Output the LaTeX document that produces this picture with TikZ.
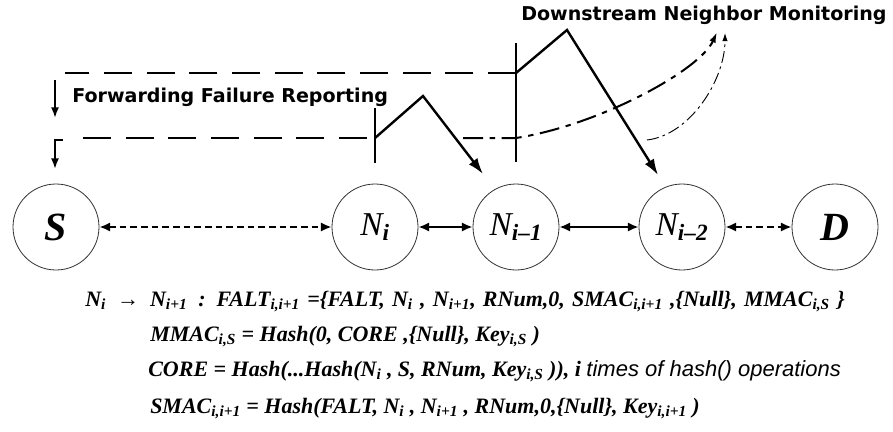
\documentclass[tikz,border=0pt]{standalone}
\usepackage{fontspec}
\setmainfont{Liberation Serif}
\newfontfamily\bannerfont{DejaVu Sans}
\newfontfamily\notefont{Liberation Sans}
\usepackage{tikz}
\usetikzlibrary{arrows.meta}

\newcommand{\low}[1]{\textsubscript{#1}}

\tikzset{
  peer/.style={circle, draw=black!80, line width=0.6pt, minimum size=64.5pt, inner sep=0pt},
  link/.style={{Latex[length=8pt,width=7pt]}-{Latex[length=8pt,width=7pt]}, line width=1.8pt},
  weaklink/.style={link, dash pattern=on 5pt off 3pt},
  report/.style={line width=1.8pt, dash pattern=on 21pt off 11pt},
  probe/.style={-{Latex[length=12pt,width=8pt]}, line width=1.8pt},
  banner/.style={anchor=west, inner sep=0pt, font=\bannerfont\bfseries\fontsize{14.3}{16}\selectfont},
  formula/.style={anchor=base west, inner sep=0pt, font=\bfseries\itshape\fontsize{16.5}{19}\selectfont}
}

\begin{document}
\begin{tikzpicture}[x=0.75pt,y=0.75pt,yscale=-1,xscale=1]
\path[use as bounding box] (0,0) rectangle (893,432);

%Shape: Circle
\node[peer] (S) at (56,227) {\fontsize{30}{30}\selectfont\bfseries\itshape S};
\node[peer] (Ni) at (375,227) {\fontsize{25}{25}\selectfont\itshape N\low{\bfseries i}};
\node[peer] (Nim1) at (516,227) {\fontsize{25}{25}\selectfont\itshape N\low{\bfseries i–1}};
\node[peer] (Nim2) at (682,227) {\fontsize{25}{25}\selectfont\itshape N\low{\bfseries i–2}};
\node[peer] (D) at (835,227) {\fontsize{30}{30}\selectfont\bfseries\itshape D};

%Straight Lines
\draw[weaklink] (S) -- (Ni);
\draw[link] (Ni) -- (Nim1);
\draw[link] (Nim1) -- (Nim2);
\draw[weaklink] (Nim2) -- (D);

%Points on the bars
\coordinate (hop1) at (375,138);
\coordinate (hop2) at (516,73);
\coordinate (tip1) at (483,174);
\coordinate (tip2) at (658,175);
\coordinate (mon1) at (717,32);
\coordinate (mon2) at (725,33);

%Bars
\draw[line width=1.8pt] (375,108) -- (375,163);
\draw[line width=1.8pt] (516,43) -- (516,162);

%Zigzag probes
\draw[probe] (hop1) -- (423,96) -- (tip1);
\draw[probe] (hop2) -- (567,30) -- (tip2);

%Failure report lines
\draw[report] (hop2) -- (65,73);
\draw[report] (367,138) -- (78,138);
\draw[-{Latex[length=8pt,width=6pt]}, line width=1.3pt] (55,80) -- (55,118);
\draw[-{Latex[length=8pt,width=6pt]}, line width=1.3pt] (63,140) -- (55,140) -- (55,169);

%Curved monitoring arrows
\draw[-{Latex[length=8pt,width=5pt]}, line width=1.5pt, dash pattern=on 15pt off 5pt on 4pt off 5pt]
  (463,138) -- (hop1 -| hop2) .. controls (600,125) and (700,70) .. (mon1);
\draw[-{Latex[length=6pt,width=4pt]}, line width=0.7pt, dash pattern=on 9pt off 3pt on 2pt off 3pt]
  (647,140) .. controls (690,135) and (725,80) .. (mon2);

% Text Node
\node[banner] (fwd) at (72,97) {Forwarding Failure Reporting};
\node[banner] (dnm) at (521,15) {Downstream Neighbor Monitoring};

% Text Node
\node[formula] (f1) at (85,306) {\spaceskip=0.33em N\low{i}\enspace→\enspace N\low{i+1}\enspace:\enspace FALT\low{i,i+1} =\{FALT, N\low{i} , N\low{i+1}, RNum,0, SMAC\low{i,i+1} ,\{Null\}, MMAC\low{i,S} \}};
\node[formula] (f2) at (150,341) {MMAC\low{i,S} = Hash(0, CORE ,\{Null\}, Key\low{i,S} )};
\node[formula] (f3) at (148,376) {CORE = Hash(...Hash(N\low{i} , S, RNum, Key\low{i,S} )), i {\notefont\mdseries times of hash() operations}};
\node[formula] (f4) at (150,413) {SMAC\low{i,i+1} = Hash(FALT, N\low{i} , N\low{i+1} , RNum,0,\{Null\}, Key\low{i,i+1} )};

\end{tikzpicture}
\end{document}
